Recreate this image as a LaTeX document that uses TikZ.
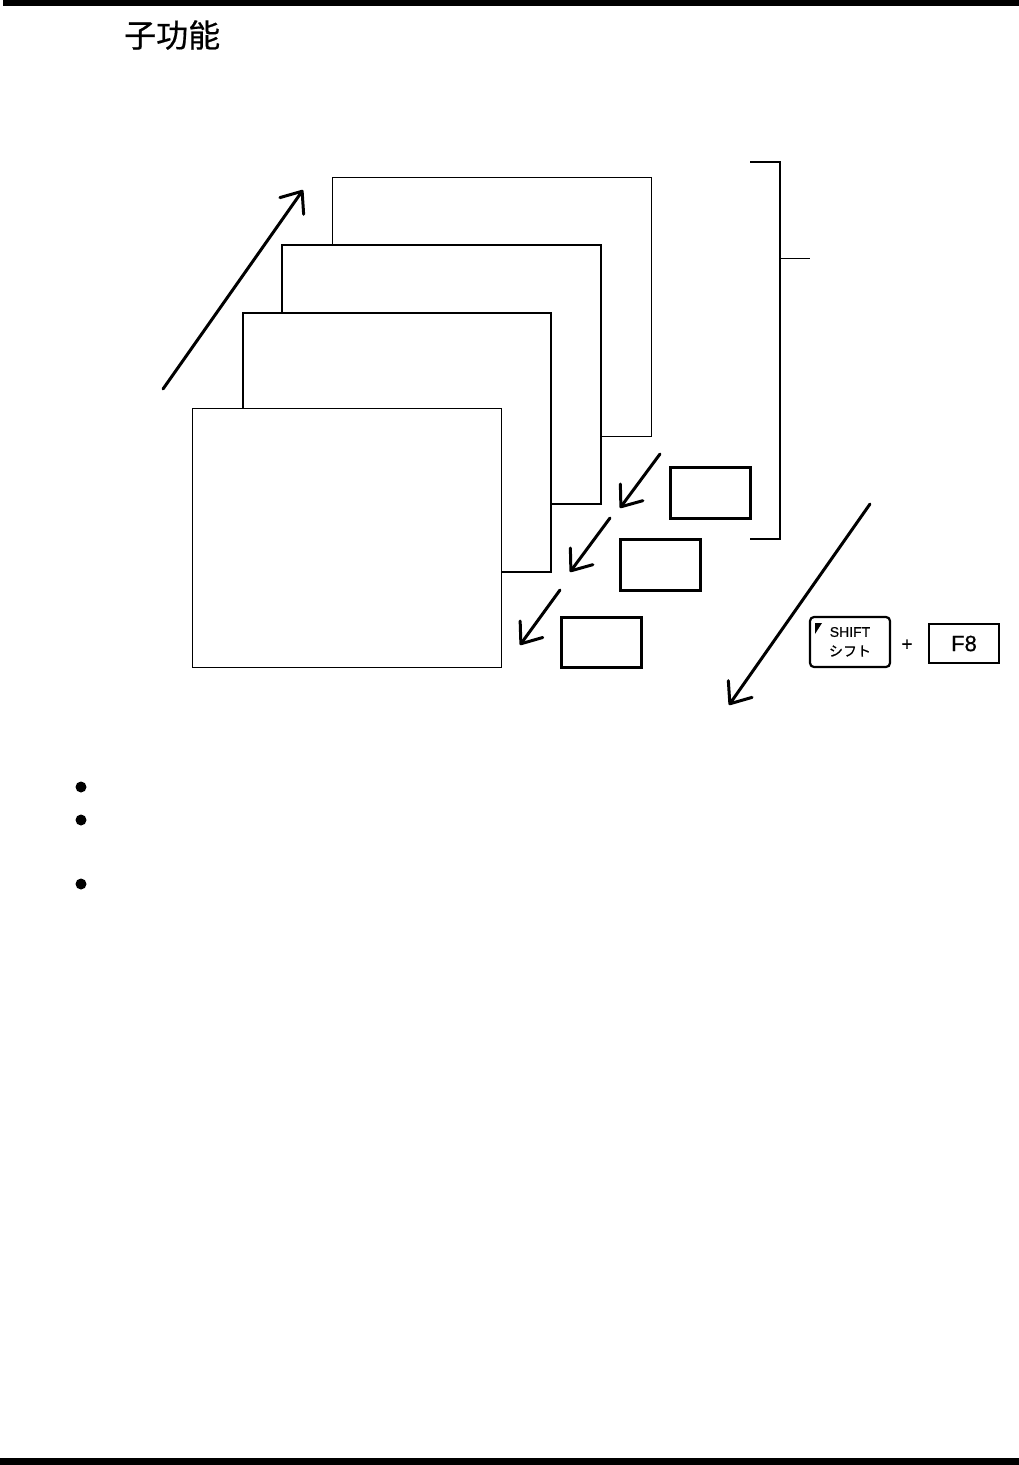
\documentclass[tikz,border=0pt]{standalone}
\usepackage{fontspec}
\setmainfont{Liberation Sans}
\newfontfamily\heavy[FakeBold=0.6]{Liberation Sans}
\newfontfamily\cjk[FakeBold=0.5]{Noto Sans CJK SC}
\newfontfamily\jp[FakeBold=0.5]{Noto Sans CJK JP}
\usetikzlibrary{arrows.meta}
\begin{document}
\begin{tikzpicture}[x=1pt,y=-1pt,
  page/.style={draw=black,fill=white,line width=1.6pt,line join=miter},
  thinpage/.style={draw=black,fill=white,line width=1pt,line join=miter},
  softkey/.style={draw=black,fill=white,line width=3pt},
  bigarrow/.style={draw=black,line width=3pt,line cap=round,-{Straight Barb[round,length=18pt,width=29pt,line width=3pt]}},
  smallarrow/.style={draw=black,line width=3pt,line cap=round,-{Straight Barb[round,length=18pt,width=28pt,line width=3pt]}},
  bullet/.style={circle,fill=black,inner sep=0pt,minimum size=11pt}]
\useasboundingbox (0,0) rectangle (1019,1465);
\fill[black] (3,0) rectangle (1019,6);
\fill[black] (0,1458) rectangle (1019,1465);
\node[anchor=west,inner sep=0pt,font=\cjk\fontsize{32}{32}\selectfont] (title) at (124,35) {子功能};
\draw[thinpage] (332,177) rectangle (651,436);
\draw[page] (282,245) rectangle (601,504);
\draw[page] (243,313) rectangle (551,572);
\draw[thinpage] (192,408) rectangle (501,667);
\coordinate (upS) at (163,389); \coordinate (upE) at (303,190);
\draw[bigarrow] (upS) -- (upE);
\coordinate (dnS) at (870,504); \coordinate (dnE) at (729,705);
\draw[bigarrow] (dnS) -- (dnE);
\coordinate (a1S) at (660,454); \coordinate (a1E) at (620,508);
\coordinate (a2S) at (610,518); \coordinate (a2E) at (570,572);
\coordinate (a3S) at (560,590); \coordinate (a3E) at (520,645);
\draw[smallarrow] (a1S) -- (a1E);
\draw[smallarrow] (a2S) -- (a2E);
\draw[smallarrow] (a3S) -- (a3E);
\draw[softkey] (670,467) rectangle (750,518);
\draw[softkey] (620,539) rectangle (700,590);
\draw[softkey] (561,617) rectangle (641,667);
\coordinate (bt) at (750,162); \coordinate (bb) at (750,539);
\coordinate (bm) at (780,258); \coordinate (be) at (810,258);
\draw[black,line width=1.8pt] (bt) -| (780,539) -- (bb);
\draw[black,line width=1pt] (bm) -- (be);
\draw[black,line width=2.2pt,rounded corners=4pt,fill=white] (810,617) rectangle (890,667);
\fill[black] (815,623) -- (822,623) -- (815,634) -- cycle;
\node[inner sep=0pt,font=\heavy\fontsize{14}{14}\selectfont] (shift) at (850,632) {SHIFT};
\node[inner sep=0pt,font=\jp\fontsize{14}{14}\selectfont] (shiftk) at (850,651) {シフト};
\node[inner sep=0pt,font=\heavy\fontsize{19}{19}\selectfont] (plus) at (907,645) {+};
\node[draw=black,line width=2.2pt,minimum width=70pt,minimum height=39pt,inner sep=0pt,font=\heavy\fontsize{22}{22}\selectfont] (f8) at (964,643.5) {F8};
\node[bullet] (b1) at (81,787) {};
\node[bullet] (b2) at (81,820) {};
\node[bullet] (b3) at (81,884) {};
\end{tikzpicture}
\end{document}
